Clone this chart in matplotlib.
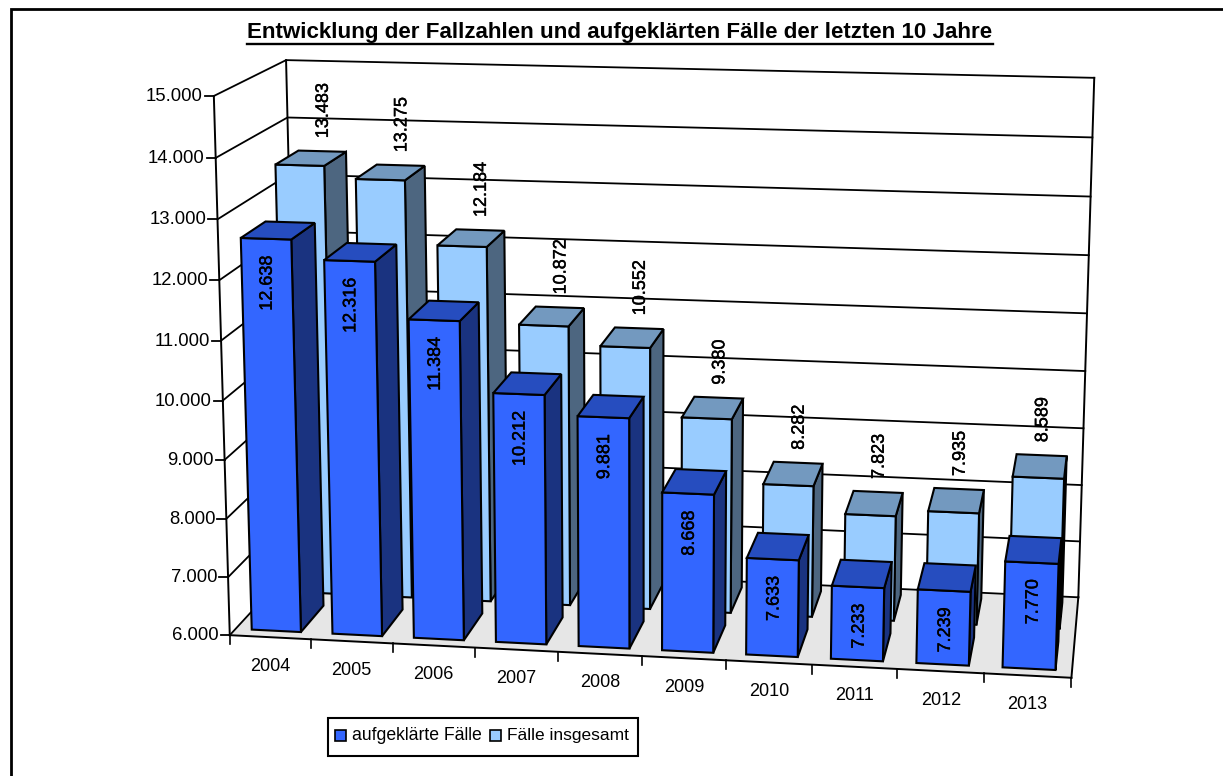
import numpy as np
import matplotlib
matplotlib.use("Agg")
import matplotlib.pyplot as plt
import matplotlib.patheffects as pe
from matplotlib.patches import Polygon, Rectangle

plt.rcParams['font.family'] = ['Liberation Sans', 'DejaVu Sans']

years = ['2004', '2005', '2006', '2007', '2008', '2009', '2010', '2011', '2012', '2013']
aufgeklaert = [12638, 12316, 11384, 10212, 9881, 8668, 7633, 7233, 7239, 7770]
insgesamt = [13483, 13275, 12184, 10872, 10552, 9380, 8282, 7823, 7935, 8589]
y_ticks = [6000, 7000, 8000, 9000, 10000, 11000, 12000, 13000, 14000, 15000]
title = 'Entwicklung der Fallzahlen und aufgeklärten Fälle der letzten 10 Jahre'
series_names = ['aufgeklärte Fälle', 'Fälle insgesamt']


def fmt(v):
    return f'{v:,}'.replace(',', '.')


# Camera calibration of the 3-D box: (category, value, depth) -> canvas pixel
calib_3d = np.array([
    [0, 6000, 0], [10, 6000, 0], [0, 6000, 1], [10, 6000, 1],
    [0, 15000, 0], [0, 15000, 1], [10, 15000, 1]], float)
calib_px = np.array([
    [231, 633], [1072, 679], [297, 563], [1078, 596],
    [212, 97], [288, 59], [1094, 78]], float)


def fit_camera(p3, p2):
    rows, rhs = [], []
    for (a, b, c), (x, y) in zip(p3, p2):
        rows.append([a, b / 1000, c, 1, 0, 0, 0, 0, -x * a, -x * b / 1000, -x * c])
        rhs.append(x)
        rows.append([0, 0, 0, 0, a, b / 1000, c, 1, -y * a, -y * b / 1000, -y * c])
        rhs.append(y)
    sol = np.linalg.lstsq(np.array(rows), np.array(rhs), rcond=None)[0]
    return np.append(sol, 1).reshape(3, 4)


CAM = fit_camera(calib_3d, calib_px)


def proj(u, v, w):
    q = CAM @ np.array([u, v / 1000, w, 1.0])
    return q[:2] / q[2]


fig = plt.figure(figsize=(12.23, 7.76), dpi=100)
ax = fig.add_axes([0, 0, 1, 1])
ax.set_xlim(0, 1223)
ax.set_ylim(776, 0)
ax.axis('off')

K = 'black'
# outer frame
ax.plot([10.5, 10.5, 1223], [776, 8.5, 8.5], color=K, lw=2, zorder=1,
        solid_joinstyle='miter')

# title
ax.text(619.5, 32.5, title, ha='center', va='center', fontsize=16.1, fontweight='bold', zorder=10)
ax.plot([247, 993], [44, 44], color=K, lw=1.7, zorder=10)

vmin, vmax = y_ticks[0], y_ticks[-1]
n = len(years)

# floor
ax.add_patch(Polygon([proj(0, vmin, 0), proj(n, vmin, 0), proj(n, vmin, 1), proj(0, vmin, 1)],
                     closed=True, fc='#E6E6E6', ec='none', zorder=1))
# grid
for v in y_ticks:
    pts = np.array([proj(0, v, 0), proj(0, v, 1), proj(n, v, 1)])
    ax.plot(pts[:, 0], pts[:, 1], color=K, lw=1.3, zorder=2, solid_joinstyle='miter')
    fx, fy = pts[0]
    ax.plot([fx - 9, fx], [fy, fy], color=K, lw=1.3, zorder=2)
    ax.text(fx - 11, fy + 0.5, fmt(v), ha='right', va='center', fontsize=13.3, zorder=10)
# box edges
for a, b in [((0, vmin, 0), (0, vmax, 0)), ((0, vmin, 1), (0, vmax, 1)),
             ((n, vmin, 1), (n, vmax, 1)), ((0, vmin, 0), (n, vmin, 0)),
             ((n, vmin, 0), (n, vmin, 1))]:
    p, q = proj(*a), proj(*b)
    ax.plot([p[0], q[0]], [p[1], q[1]], color=K, lw=1.4, zorder=2)
# category ticks and labels
for i in range(n + 1):
    x, y = proj(i, vmin, 0)
    ax.plot([x, x], [y, y + 9], color=K, lw=1.2, zorder=2)
for i, yr in enumerate(years):
    x, y = proj(i + 0.5, vmin, 0)
    ax.text(x, y + 29, yr, ha='center', va='center', fontsize=13, zorder=10)


def bar(i, val, w0, w1, front, side, top, z):
    u0, u1 = i + 0.20, i + 0.81
    f = [proj(u0, vmin, w0), proj(u1, vmin, w0), proj(u1, val, w0), proj(u0, val, w0)]
    s = [proj(u1, vmin, w0), proj(u1, vmin, w1), proj(u1, val, w1), proj(u1, val, w0)]
    tp = [proj(u0, val, w0), proj(u1, val, w0), proj(u1, val, w1), proj(u0, val, w1)]
    for poly, c in ((s, side), (f, front), (tp, top)):
        ax.add_patch(Polygon(poly, closed=True, fc=c, ec=K, lw=1.5, joinstyle='miter', zorder=z))


LIGHT_W = (0.58, 0.92)
BLUE_W = (0.08, 0.42)
for i, val in enumerate(insgesamt):
    bar(i, val, *LIGHT_W, '#99CCFF', '#4D6680', '#7399BF', 3 + i * 0.01)
for i, val in enumerate(aufgeklaert):
    bar(i, val, *BLUE_W, '#3366FF', '#1A3380', '#264DBF', 4 + i * 0.01)

stroke = [pe.withStroke(linewidth=0.3, foreground='black')]
for i, val in enumerate(insgesamt):
    x, y = proj(i + 0.52, val, LIGHT_W[1])
    ax.text(x, y - 13, fmt(val), rotation=90, ha='center', va='bottom', fontsize=13,
            zorder=9, path_effects=stroke)
for i, val in enumerate(aufgeklaert):
    x, y = proj(i + 0.52, val, BLUE_W[0])
    ax.text(x, y + 17, fmt(val), rotation=90, ha='center', va='top', fontsize=13,
            zorder=9, path_effects=stroke)

# legend
ax.add_patch(Rectangle((328, 717.5), 310, 38, fc='white', ec=K, lw=1.5, zorder=8))
ax.add_patch(Rectangle((334.5, 730), 11, 11, fc='#3366FF', ec=K, lw=1.2, zorder=9))
ax.add_patch(Rectangle((490, 730), 11, 11, fc='#99CCFF', ec=K, lw=1.2, zorder=9))
ax.text(352, 735.5, series_names[0], ha='left', va='center', fontsize=12.7, zorder=9)
ax.text(507, 735.5, series_names[1], ha='left', va='center', fontsize=12.5, zorder=9)

fig.savefig('out.png', dpi=100)
